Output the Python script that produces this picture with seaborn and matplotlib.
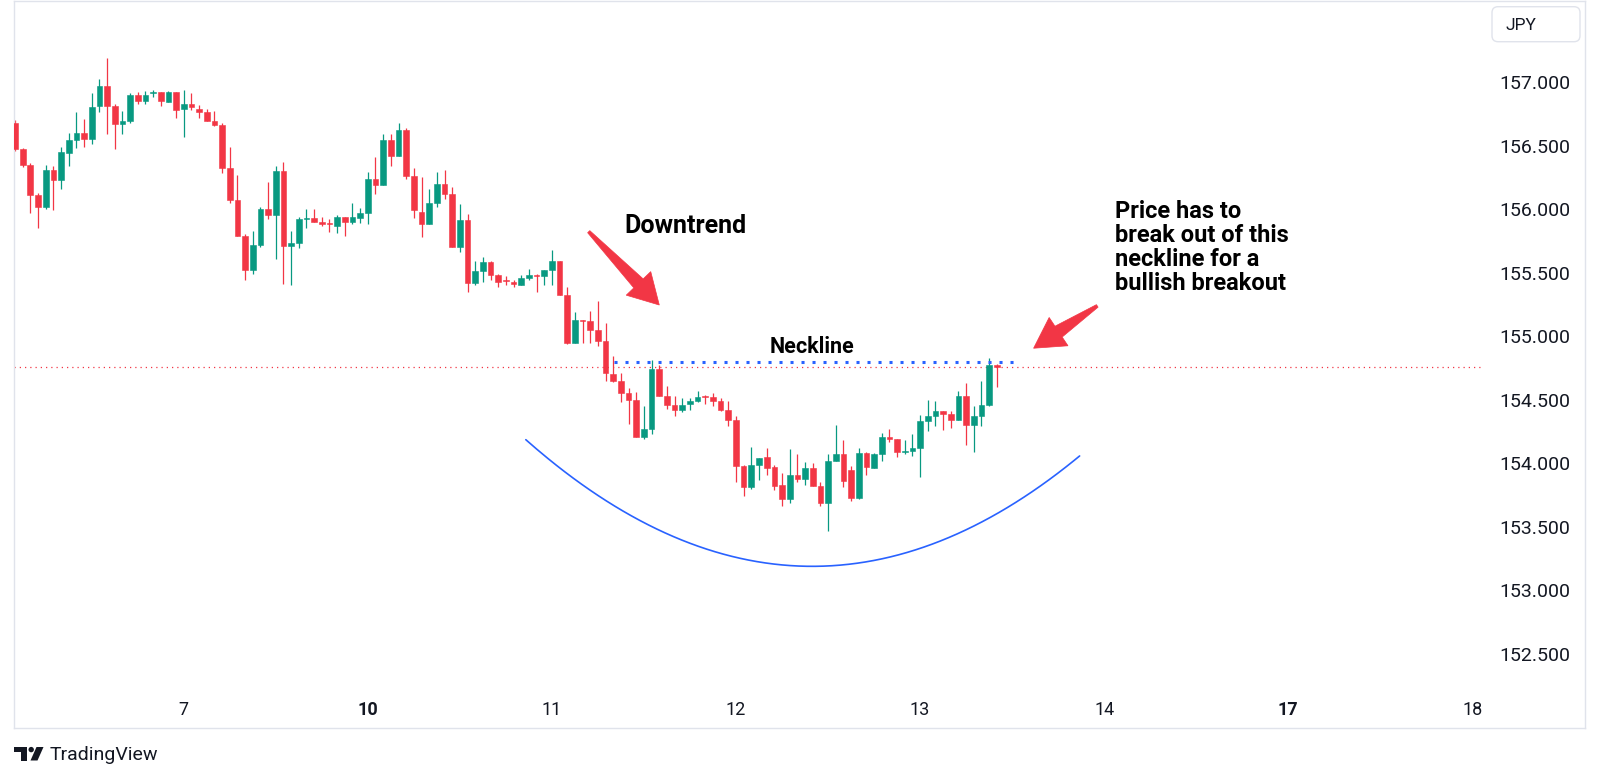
import numpy as np
import pandas as pd
import matplotlib.pyplot as plt
import matplotlib.patches as mpatches
from matplotlib.transforms import IdentityTransform
import seaborn as sns

sns.set_theme(style="white")
plt.rcParams['font.family'] = ['Roboto', 'DejaVu Sans']

# hourly USDJPY candles
opens = [156.68, 156.47, 156.35, 156.11, 156.02, 156.31, 156.23, 156.44, 156.54, 156.60,
         156.55, 156.81, 156.97, 156.81, 156.67, 156.69, 156.90, 156.85, 156.91, 156.92,
         156.84, 156.92, 156.79, 156.83, 156.79, 156.76, 156.69, 156.66, 156.32, 156.07,
         155.79, 155.52, 155.72, 156.00, 155.95, 156.30, 155.71, 155.73, 155.92, 155.93,
         155.90, 155.89, 155.87, 155.94, 155.90, 155.93, 155.97, 156.24, 156.19, 156.54,
         156.42, 156.62, 156.26, 155.98, 155.88, 156.05, 156.20, 156.12, 155.70, 155.91,
         155.42, 155.51, 155.58, 155.48, 155.44, 155.43, 155.40, 155.46, 155.48, 155.47,
         155.52, 155.59, 155.32, 154.95, 155.13, 155.12, 155.05, 154.96, 154.70, 154.65,
         154.55, 154.50, 154.21, 154.27, 154.74, 154.53, 154.46, 154.42, 154.47, 154.49,
         154.53, 154.52, 154.49, 154.42, 154.34, 153.98, 153.81, 153.99, 154.05, 153.97,
         153.83, 153.72, 153.91, 153.88, 153.96, 153.82, 153.69, 154.02, 154.07, 153.95,
         153.73, 154.08, 153.96, 154.07, 154.21, 154.19, 154.09, 154.10, 154.12, 154.33,
         154.37, 154.41, 154.39, 154.34, 154.53, 154.30, 154.37, 154.46, 154.77]
closes = [156.47, 156.35, 156.11, 156.02, 156.31, 156.23, 156.45, 156.54, 156.60, 156.55,
          156.80, 156.97, 156.81, 156.67, 156.69, 156.90, 156.85, 156.90, 156.92, 156.85,
          156.92, 156.78, 156.83, 156.80, 156.76, 156.69, 156.66, 156.32, 156.07, 155.79,
          155.52, 155.72, 156.00, 155.95, 156.30, 155.71, 155.73, 155.92, 155.93, 155.90,
          155.88, 155.88, 155.94, 155.90, 155.94, 155.97, 156.24, 156.19, 156.54, 156.42,
          156.62, 156.26, 155.99, 155.88, 156.05, 156.20, 156.12, 155.70, 155.91, 155.42,
          155.51, 155.58, 155.48, 155.43, 155.435, 155.41, 155.46, 155.48, 155.47, 155.52,
          155.59, 155.32, 154.95, 155.13, 155.12, 155.05, 154.96, 154.71, 154.65, 154.55,
          154.50, 154.21, 154.27, 154.74, 154.53, 154.46, 154.42, 154.46, 154.49, 154.52,
          154.52, 154.49, 154.42, 154.34, 153.98, 153.81, 153.99, 154.04, 153.96, 153.82,
          153.72, 153.91, 153.88, 153.96, 153.82, 153.69, 154.02, 154.07, 153.86, 153.73,
          154.08, 153.97, 154.07, 154.21, 154.19, 154.09, 154.10, 154.12, 154.33, 154.37,
          154.41, 154.39, 154.34, 154.53, 154.30, 154.37, 154.46, 154.77, 154.76]
highs = [156.70, 156.48, 156.36, 156.13, 156.35, 156.34, 156.49, 156.60, 156.76, 156.71,
         156.91, 157.02, 157.19, 156.83, 156.77, 156.91, 156.92, 156.93, 156.94, 156.92,
         156.93, 156.92, 156.94, 156.91, 156.82, 156.79, 156.77, 156.68, 156.49, 156.27,
         155.80, 155.83, 156.02, 156.21, 156.34, 156.37, 155.83, 155.94, 156.00, 156.00,
         155.94, 155.92, 155.95, 155.94, 156.05, 156.01, 156.29, 156.41, 156.59, 156.59,
         156.68, 156.64, 156.32, 156.25, 156.16, 156.29, 156.31, 156.17, 156.04, 155.96,
         155.59, 155.62, 155.59, 155.49, 155.47, 155.44, 155.48, 155.53, 155.49, 155.52,
         155.68, 155.59, 155.39, 155.19, 155.13, 155.20, 155.28, 155.10, 154.84, 154.71,
         154.59, 154.56, 154.45, 154.81, 154.77, 154.61, 154.53, 154.51, 154.51, 154.57,
         154.54, 154.55, 154.51, 154.49, 154.37, 153.99, 154.13, 154.04, 154.12, 153.99,
         153.92, 154.11, 154.07, 154.01, 154.00, 153.85, 154.07, 154.30, 154.18, 153.98,
         154.12, 154.09, 154.08, 154.24, 154.27, 154.19, 154.18, 154.23, 154.38, 154.50,
         154.49, 154.41, 154.41, 154.57, 154.63, 154.45, 154.65, 154.83, 154.78]
lows = [156.46, 156.33, 155.97, 155.85, 156.00, 155.99, 156.16, 156.34, 156.48, 156.49,
        156.51, 156.76, 156.59, 156.47, 156.59, 156.68, 156.83, 156.83, 156.88, 156.81,
        156.84, 156.72, 156.57, 156.78, 156.72, 156.69, 156.65, 156.28, 156.05, 155.79,
        155.44, 155.49, 155.70, 155.92, 155.61, 155.41, 155.40, 155.69, 155.85, 155.90,
        155.87, 155.82, 155.81, 155.79, 155.88, 155.89, 155.88, 156.12, 156.19, 156.34,
        156.42, 156.24, 155.93, 155.78, 155.88, 156.02, 156.08, 155.70, 155.66, 155.35,
        155.40, 155.43, 155.44, 155.39, 155.40, 155.39, 155.40, 155.44, 155.35, 155.40,
        155.40, 155.32, 154.94, 154.95, 154.95, 154.95, 154.92, 154.65, 154.64, 154.48,
        154.31, 154.21, 154.19, 154.23, 154.53, 154.43, 154.37, 154.40, 154.42, 154.48,
        154.47, 154.45, 154.41, 154.29, 153.85, 153.74, 153.80, 153.87, 153.91, 153.79,
        153.66, 153.69, 153.85, 153.83, 153.82, 153.66, 153.47, 154.02, 153.81, 153.70,
        153.72, 153.91, 153.96, 154.02, 154.17, 154.05, 154.07, 154.06, 153.89, 154.25,
        154.29, 154.26, 154.28, 154.34, 154.14, 154.09, 154.29, 154.45, 154.60]

day_ticks = [22, 46, 70, 94, 118, 142, 166, 190]
day_labels = ['7', '10', '11', '12', '13', '14', '17', '18']
week_starts = ['10', '17']
price_ticks = [152.5, 153.0, 153.5, 154.0, 154.5, 155.0, 155.5, 156.0, 156.5, 157.0]

neckline_level = 154.795
neckline_bars = [78.1, 130.8]
# rounded-bottom drawing (anchor points of the hand-drawn arc)
arc_bars = [66.6, 68.5, 78.9, 103.1, 125.6, 138.8]
arc_prices = [154.18, 154.09, 153.64, 153.19, 153.52, 154.06]

UP = '#089981'
DOWN = '#F23645'
BLUE = '#2962FF'
FRAME = '#E0E3EB'
TXT = '#131722'

df = pd.DataFrame({'open': opens, 'high': highs, 'low': lows, 'close': closes})
df['bar'] = np.arange(len(df))
df['color'] = np.where(df['close'] >= df['open'], UP, DOWN)

fig = plt.figure(figsize=(16, 7.8), dpi=100)
ax = fig.add_axes([14 / 1600, 52 / 780, 1571 / 1600, 727 / 780])
ax.set_facecolor('white')
ax.set_xlim(-0.13, 204.69)
ax.set_ylim(151.917, 157.637)

# wicks + bodies
ax.vlines(df['bar'], df['low'], df['high'], colors=df['color'], linewidth=0.9, zorder=2)
body_low = df[['open', 'close']].min(axis=1)
body_h = (df['close'] - df['open']).abs().clip(lower=0.008)
ax.bar(df['bar'], body_h, bottom=body_low, width=0.74, color=df['color'],
       edgecolor=df['color'], linewidth=0.4, zorder=3)

# last price line
ax.hlines(closes[-1], -0.13, 191.5, colors=DOWN, linewidth=0.9,
          linestyles=(0, (1, 3.2)), zorder=1)

# neckline
sns.lineplot(x=neckline_bars, y=[neckline_level] * 2, ax=ax, color=BLUE,
             linewidth=2.2, linestyle=(0, (1, 2.6)), zorder=4)

# arc under the bottom
coef = np.polyfit(arc_bars, arc_prices, 2)
xs = np.linspace(arc_bars[0], arc_bars[-1], 200)
sns.lineplot(x=xs, y=np.polyval(coef, xs), ax=ax, color=BLUE, linewidth=1.2, zorder=4)

# axes styling
for sp in ax.spines.values():
    sp.set_color(FRAME)
    sp.set_linewidth(1)
ax.grid(False)
ax.yaxis.tick_right()
ax.set_yticks(price_ticks)
ax.set_yticklabels([f'{v:.3f}' for v in price_ticks])
ax.tick_params(axis='y', length=0, pad=-10.8, labelsize=14, labelcolor=TXT)
for lab in ax.get_yticklabels():
    lab.set_horizontalalignment('right')
ax.set_xticks(day_ticks)
ax.set_xticklabels(day_labels)
ax.tick_params(axis='x', length=0, pad=-13, labelsize=13, labelcolor=TXT)
for lab in ax.get_xticklabels():
    lab.set_verticalalignment('center')
    if lab.get_text() in week_starts:
        lab.set_fontweight('bold')
ax.set_xlabel('')
ax.set_ylabel('')

# annotations
ax.text(79.4, 155.81, 'Downtrend', ha='left', va='baseline', fontsize=18,
        fontweight='bold', color='black')
ax.text(103.9, 154.865, 'Neckline', ha='center', va='baseline', fontsize=15.5,
        fontweight='bold', color='black')
note = ['Price has to', 'break out of this', 'neckline for a', 'bullish breakout']
for k, line in enumerate(note):
    ax.text(143.4, 155.93 - k * 0.188, line, ha='left', va='baseline', fontsize=17,
            fontweight='bold', color='black')


def big_arrow(tail, tip, hl=30, hw=17, sw=6.5, tw=1.5):
    t = ax.transData.transform(tail)
    h = ax.transData.transform(tip)
    u = (h - t) / np.hypot(*(h - t))
    n = np.array([-u[1], u[0]])
    base = h - u * hl
    pts = [t + n * tw, base + n * sw, base + n * hw, h,
           base - n * hw, base - n * sw, t - n * tw]
    fig.add_artist(mpatches.Polygon(pts, closed=True, transform=IdentityTransform(),
                                    facecolor=DOWN, edgecolor=DOWN, linewidth=0.5))


big_arrow((74.8, 155.822), (84.0, 155.245))
big_arrow((141.1, 155.238), (132.8, 154.905))

# currency box top right
fig.add_artist(mpatches.FancyBboxPatch((1492, 780 - 41.7), 88, 35,
                                       boxstyle='round,pad=0,rounding_size=6',
                                       transform=IdentityTransform(),
                                       facecolor='white', edgecolor=FRAME, linewidth=1))
fig.text(1506 / 1600, 1 - 25 / 780, 'JPY', ha='left', va='center', fontsize=12.5, color=TXT)

# TradingView logo
logo = [mpatches.Rectangle((14, 780 - 752), 12.5, 5, transform=IdentityTransform()),
        mpatches.Rectangle((20.5, 780 - 760.5), 6, 13.5, transform=IdentityTransform()),
        mpatches.Circle((31.2, 780 - 749.6), 2.7, transform=IdentityTransform()),
        mpatches.Polygon([(36.5, 780 - 747), (43.5, 780 - 747), (37.5, 780 - 760.5),
                          (30.5, 780 - 760.5)], closed=True, transform=IdentityTransform())]
for p in logo:
    p.set_facecolor(TXT)
    p.set_edgecolor('none')
    fig.add_artist(p)
fig.text(50 / 1600, 1 - 760 / 780, 'TradingView', ha='left', va='baseline',
         fontsize=14, color=TXT)

fig.savefig('out.png', dpi=100, facecolor='white')
